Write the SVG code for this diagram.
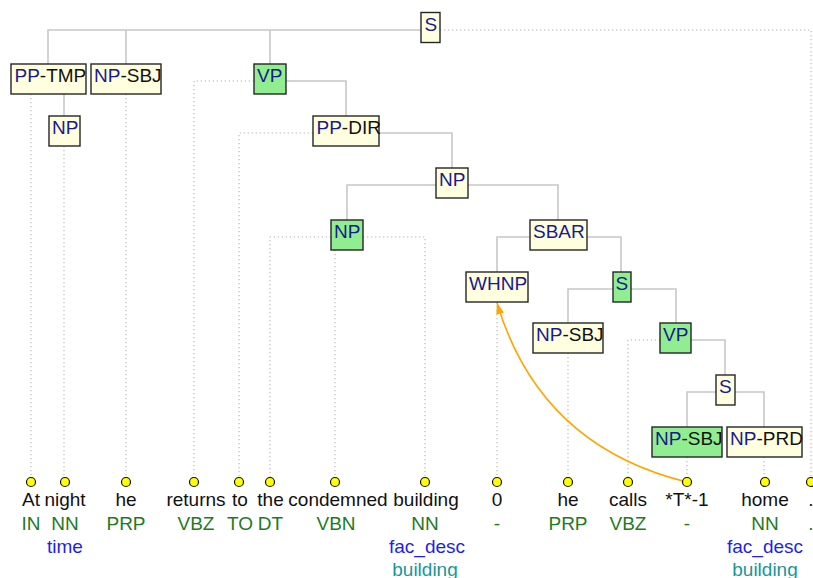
<svg xmlns="http://www.w3.org/2000/svg" width="813" height="578" viewBox="0 0 813 578">
  <style>
    text { font-family: "Liberation Sans", Arial, Helvetica, sans-serif; font-size: 19px; }
    .box { fill: #ffffe0; stroke: #262626; stroke-width: 1.4; }
    .box.head { fill: #90ee90; }
    .cat { fill: #1a1a8c; }
    .fn { fill: #111111; }
    .edge { fill: none; stroke: #c8c8c8; stroke-width: 1.6; }
    .lex { fill: none; stroke: #b4b4b4; stroke-width: 1.1; stroke-dasharray: 1.3 2.7; }
    .trace { fill: none; stroke: #ffa500; stroke-width: 1.6; }
    .dot { fill: #ffff00; stroke: #111111; stroke-width: 1.2; }
    .word { fill: #111111; text-anchor: middle; }
    .pos { fill: #1e7a1e; text-anchor: middle; }
    .sem { fill: #1f1fe6; text-anchor: middle; }
    .ent { fill: #1a9696; text-anchor: middle; }
  </style>
  <defs>
    <marker id="arrow" viewBox="0 0 11 8" refX="11" refY="4" markerWidth="11" markerHeight="8" markerUnits="userSpaceOnUse" orient="auto">
      <path d="M0,0 L11,4 L0,8 z" fill="#ffa500"/>
    </marker>
  </defs>

  <!-- tree edges and lexical attachment lines -->
  <g id="connectors">
    <!-- S (root) -->
    <path class="edge" d="M48,64 V30 H421 M126,30 V64 M270,30 V64"/>
    <path class="lex" d="M440,30 H811 V477"/>
    <!-- PP-TMP -->
    <path class="edge" d="M64,94 V116"/>
    <path class="lex" d="M31,94 V477"/>
    <!-- NP under PP-TMP -->
    <path class="lex" d="M64,146 V477"/>
    <!-- NP-SBJ -->
    <path class="lex" d="M126,94 V477"/>
    <!-- VP -->
    <path class="edge" d="M286,81 H346 V116"/>
    <path class="lex" d="M254,81 H194 V477"/>
    <!-- PP-DIR -->
    <path class="edge" d="M379,133 H452 V168"/>
    <path class="lex" d="M313,133 H239 V477"/>
    <!-- NP -->
    <path class="edge" d="M436,185 H347 V220 M468,185 H558 V220"/>
    <!-- NP (head) -->
    <path class="lex" d="M331,237 H270 V477 M363,237 H425 V477 M335,250 V477"/>
    <!-- SBAR -->
    <path class="edge" d="M530,237 H497 V272 M587,237 H621 V272"/>
    <!-- WHNP -->
    <path class="lex" d="M497,302 V477"/>
    <!-- S (relative clause) -->
    <path class="edge" d="M613,289 H568 V323 M631,289 H676 V323"/>
    <!-- NP-SBJ (he) -->
    <path class="lex" d="M568,353 V477"/>
    <!-- VP (calls) -->
    <path class="edge" d="M691,340 H725 V375"/>
    <path class="lex" d="M660,340 H628 V477"/>
    <!-- S (small clause) -->
    <path class="edge" d="M716,392 H687 V427 M735,392 H764 V427"/>
    <path class="lex" d="M687,457 V477 M764,457 V477"/>
    <!-- trace link *T*-1 to WHNP -->
    <path class="trace" d="M687,482 Q540,446 497,303" marker-end="url(#arrow)"/>
  </g>

  <!-- phrase nodes -->
  <g id="n-S-root"><rect class="box" x="421" y="12.5" width="19" height="30"/><text x="424.5" y="30.5"><tspan class="cat">S</tspan></text></g>
  <g id="n-PP-TMP"><rect class="box" x="11" y="64" width="75" height="30"/><text x="14.5" y="82.3"><tspan class="cat">PP</tspan><tspan class="fn">-TMP</tspan></text></g>
  <g id="n-NP-SBJ-1"><rect class="box" x="91" y="64" width="70" height="30"/><text x="94" y="82.3"><tspan class="cat">NP</tspan><tspan class="fn">-SBJ</tspan></text></g>
  <g id="n-VP-1"><rect class="box head" x="254" y="64" width="32" height="30"/><text x="257" y="82.3"><tspan class="cat">VP</tspan></text></g>
  <g id="n-NP-time"><rect class="box" x="49" y="116" width="31" height="30"/><text x="52" y="134.3"><tspan class="cat">NP</tspan></text></g>
  <g id="n-PP-DIR"><rect class="box" x="313" y="116" width="66" height="30"/><text x="316.5" y="134.3"><tspan class="cat">PP</tspan><tspan class="fn">-DIR</tspan></text></g>
  <g id="n-NP-2"><rect class="box" x="436" y="168" width="32" height="30"/><text x="439" y="186.3"><tspan class="cat">NP</tspan></text></g>
  <g id="n-NP-head"><rect class="box head" x="331" y="220" width="32" height="30"/><text x="334" y="238.3"><tspan class="cat">NP</tspan></text></g>
  <g id="n-SBAR"><rect class="box" x="530" y="220" width="57" height="30"/><text x="533" y="238.3"><tspan class="cat">SBAR</tspan></text></g>
  <g id="n-WHNP"><rect class="box" x="466" y="272" width="62" height="30"/><text x="469" y="290.3"><tspan class="cat">WHNP</tspan></text></g>
  <g id="n-S-rel"><rect class="box head" x="613" y="272" width="18" height="30"/><text x="615.5" y="290.3"><tspan class="cat">S</tspan></text></g>
  <g id="n-NP-SBJ-2"><rect class="box" x="533" y="323" width="70" height="30"/><text x="536" y="341.3"><tspan class="cat">NP</tspan><tspan class="fn">-SBJ</tspan></text></g>
  <g id="n-VP-2"><rect class="box head" x="660" y="323" width="31" height="30"/><text x="663" y="341.3"><tspan class="cat">VP</tspan></text></g>
  <g id="n-S-small"><rect class="box" x="716" y="375" width="19" height="30"/><text x="719" y="393.3"><tspan class="cat">S</tspan></text></g>
  <g id="n-NP-SBJ-3"><rect class="box head" x="652" y="427" width="70" height="30"/><text x="655" y="445.3"><tspan class="cat">NP</tspan><tspan class="fn">-SBJ</tspan></text></g>
  <g id="n-NP-PRD"><rect class="box" x="727" y="427" width="75" height="30"/><text x="730" y="445.3"><tspan class="cat">NP</tspan><tspan class="fn">-PRD</tspan></text></g>

  <!-- tokens: anchor dot, word, part of speech, annotations -->
  <g id="t-At"><circle class="dot" cx="31" cy="482" r="4.5"/><text class="word" x="31" y="506">At</text><text class="pos" x="31" y="530">IN</text></g>
  <g id="t-night"><circle class="dot" cx="65" cy="482" r="4.5"/><text class="word" x="65" y="506">night</text><text class="pos" x="65" y="530">NN</text><text class="sem" x="65" y="553">time</text></g>
  <g id="t-he-1"><circle class="dot" cx="126" cy="482" r="4.5"/><text class="word" x="126" y="506">he</text><text class="pos" x="126" y="530">PRP</text></g>
  <g id="t-returns"><circle class="dot" cx="194" cy="482" r="4.5"/><text class="word" x="196" y="506">returns</text><text class="pos" x="196" y="530">VBZ</text></g>
  <g id="t-to"><circle class="dot" cx="239" cy="482" r="4.5"/><text class="word" x="240" y="506">to</text><text class="pos" x="240" y="530">TO</text></g>
  <g id="t-the"><circle class="dot" cx="270" cy="482" r="4.5"/><text class="word" x="270.5" y="506">the</text><text class="pos" x="270.5" y="530">DT</text></g>
  <g id="t-condemned"><circle class="dot" cx="335" cy="482" r="4.5"/><text class="word" x="338" y="506">condemned</text><text class="pos" x="336" y="530">VBN</text></g>
  <g id="t-building"><circle class="dot" cx="425" cy="482" r="4.5"/><text class="word" x="426" y="506">building</text><text class="pos" x="425" y="530">NN</text><text class="sem" x="427" y="553">fac_desc</text><text class="ent" x="425" y="576">building</text></g>
  <g id="t-0"><circle class="dot" cx="497" cy="482" r="4.5"/><text class="word" x="497" y="506">0</text><text class="pos" x="497" y="530">-</text></g>
  <g id="t-he-2"><circle class="dot" cx="568" cy="482" r="4.5"/><text class="word" x="568" y="506">he</text><text class="pos" x="568" y="530">PRP</text></g>
  <g id="t-calls"><circle class="dot" cx="628" cy="482" r="4.5"/><text class="word" x="628" y="506">calls</text><text class="pos" x="628" y="530">VBZ</text></g>
  <g id="t-trace"><circle class="dot" cx="687" cy="482" r="4.5"/><text class="word" x="687" y="506">*T*-1</text><text class="pos" x="687" y="530">-</text></g>
  <g id="t-home"><circle class="dot" cx="765" cy="482" r="4.5"/><text class="word" x="765" y="506">home</text><text class="pos" x="765" y="530">NN</text><text class="sem" x="765" y="553">fac_desc</text><text class="ent" x="765" y="576">building</text></g>
  <g id="t-period"><circle class="dot" cx="811" cy="482" r="4.5"/><text class="word" x="811" y="506">.</text><text class="pos" x="811" y="530">.</text></g>
</svg>
